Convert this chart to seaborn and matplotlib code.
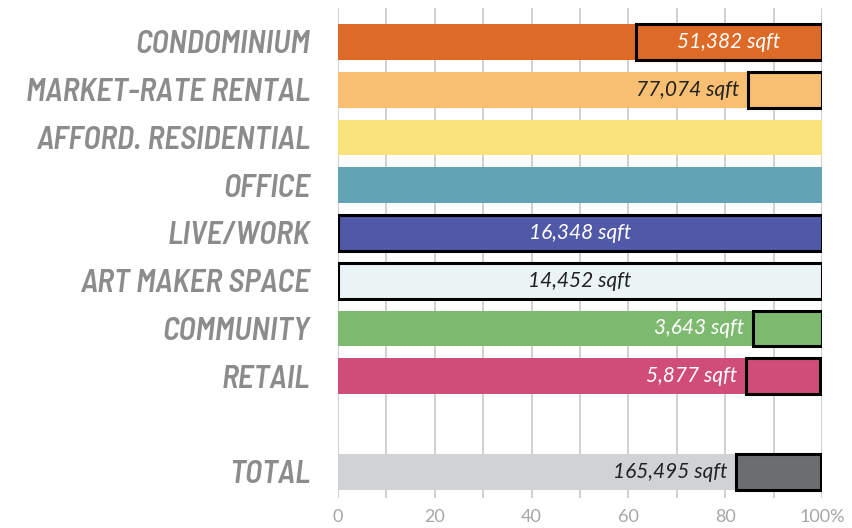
import matplotlib
matplotlib.use("Agg")
import matplotlib.pyplot as plt
import seaborn as sns
import pandas as pd

categories = ["CONDOMINIUM", "MARKET-RATE RENTAL", "AFFORD. RESIDENTIAL", "OFFICE",
              "LIVE/WORK", "ART MAKER SPACE", "COMMUNITY", "RETAIL", "TOTAL"]
share = [100, 100, 100, 100, 100, 100, 100, 100, 100]
box_start = [61.5, 84.8, None, None, 0, 0, 85.8, 84.3, 82.2]
box_end = [100, 100, None, None, 100, 100, 100, 99.5, 99.7]
sqft_labels = ["51,382 sqft", "77,074 sqft", "", "", "16,348 sqft", "14,452 sqft",
               "3,643 sqft", "5,877 sqft", "165,495 sqft"]
bar_colors = ["#DD6A27", "#F8BF72", "#F9E27A", "#63A3B6", "#5058A8", "#EAF4F5",
              "#7DBA70", "#CF4D78", "#D0D3D6"]
box_colors = ["#DD6A27", "#F8BF72", None, None, "#5058A8", "#EAF4F5",
              "#7DBA70", "#CF4D78", "#6B6D6F"]
label_colors = ["white", "#222222", None, None, "white", "#222222",
                "white", "white", "#222222"]
# where the number sits: inside the box (centred) or left of it
label_place = ["center", "left", None, None, "center", "center", "left", "left", "left"]

order = categories[:8] + [" "] + categories[8:]

sns.set_style("white")
cond = ["Barlow Semi Condensed", "Barlow Condensed", "DejaVu Sans"]
body = ["Lato", "DejaVu Sans"]
plt.rcParams["font.family"] = ["DejaVu Sans"]

fig = plt.figure(figsize=(8.52, 5.28), dpi=100)
ax = fig.add_axes([0.3967, 0.0568, 0.5681, 0.9280])

df = pd.DataFrame({"cat": categories, "share": share})
sns.barplot(data=df, y="cat", x="share", order=order, hue="cat",
            palette=dict(zip(categories, bar_colors)), legend=False, saturation=1,
            width=0.75, ax=ax, linewidth=0, zorder=2)

# outlined boxes
bdf = pd.DataFrame({"cat": categories, "start": box_start, "end": box_end,
                    "col": box_colors}).dropna()
bdf["w"] = bdf["end"] - bdf["start"]
n_before = len(ax.patches)
sns.barplot(data=bdf, y="cat", x="w", order=order, hue="cat",
            palette=dict(zip(bdf["cat"], bdf["col"])), legend=False, saturation=1,
            width=0.75, ax=ax, edgecolor="black", linewidth=2.2, zorder=3)
new_patches = [p for p in ax.patches[n_before:] if p.get_width() > 0]
for p in new_patches:
    yc = p.get_y() + p.get_height() / 2
    row = bdf.iloc[(abs(bdf["cat"].map(order.index) - yc)).argmin()]
    p.set_x(row["start"])

for i, cat in enumerate(categories):
    txt = sqft_labels[i]
    if not txt:
        continue
    y = order.index(cat)
    if label_place[i] == "center":
        x = (box_start[i] + box_end[i]) / 2
        ha = "center"
    else:
        x = box_start[i] - 1.8
        ha = "right"
    ax.text(x, y, txt, ha=ha, va="center", fontsize=15, style="italic",
            color=label_colors[i], family=body, zorder=4)

ax.set_xlim(0, 100)
ax.set_ylim(9.55, -0.71)
ax.set_xticks(range(0, 101, 10))
ax.set_xticklabels(["0", "", "20", "", "40", "", "60", "", "80", "", "100%"])
ax.grid(axis="x", color="#CDCDCD", linewidth=1.3, zorder=0)
ax.set_axisbelow(True)
for s in ax.spines.values():
    s.set_visible(False)
ax.tick_params(axis="x", length=0, pad=8)
ax.tick_params(axis="y", length=0, pad=20)
for lab in ax.get_xticklabels():
    lab.set_fontsize(13)
    lab.set_color("#A6A6A6")
    lab.set_family(body)
for lab in ax.get_yticklabels():
    lab.set_fontsize(23)
    lab.set_fontweight("semibold")
    lab.set_fontstyle("italic")
    lab.set_color("#8C8C8C")
    lab.set_family(cond)
ax.set_xlabel("")
ax.set_ylabel("")

fig.savefig("out.png", dpi=100)
